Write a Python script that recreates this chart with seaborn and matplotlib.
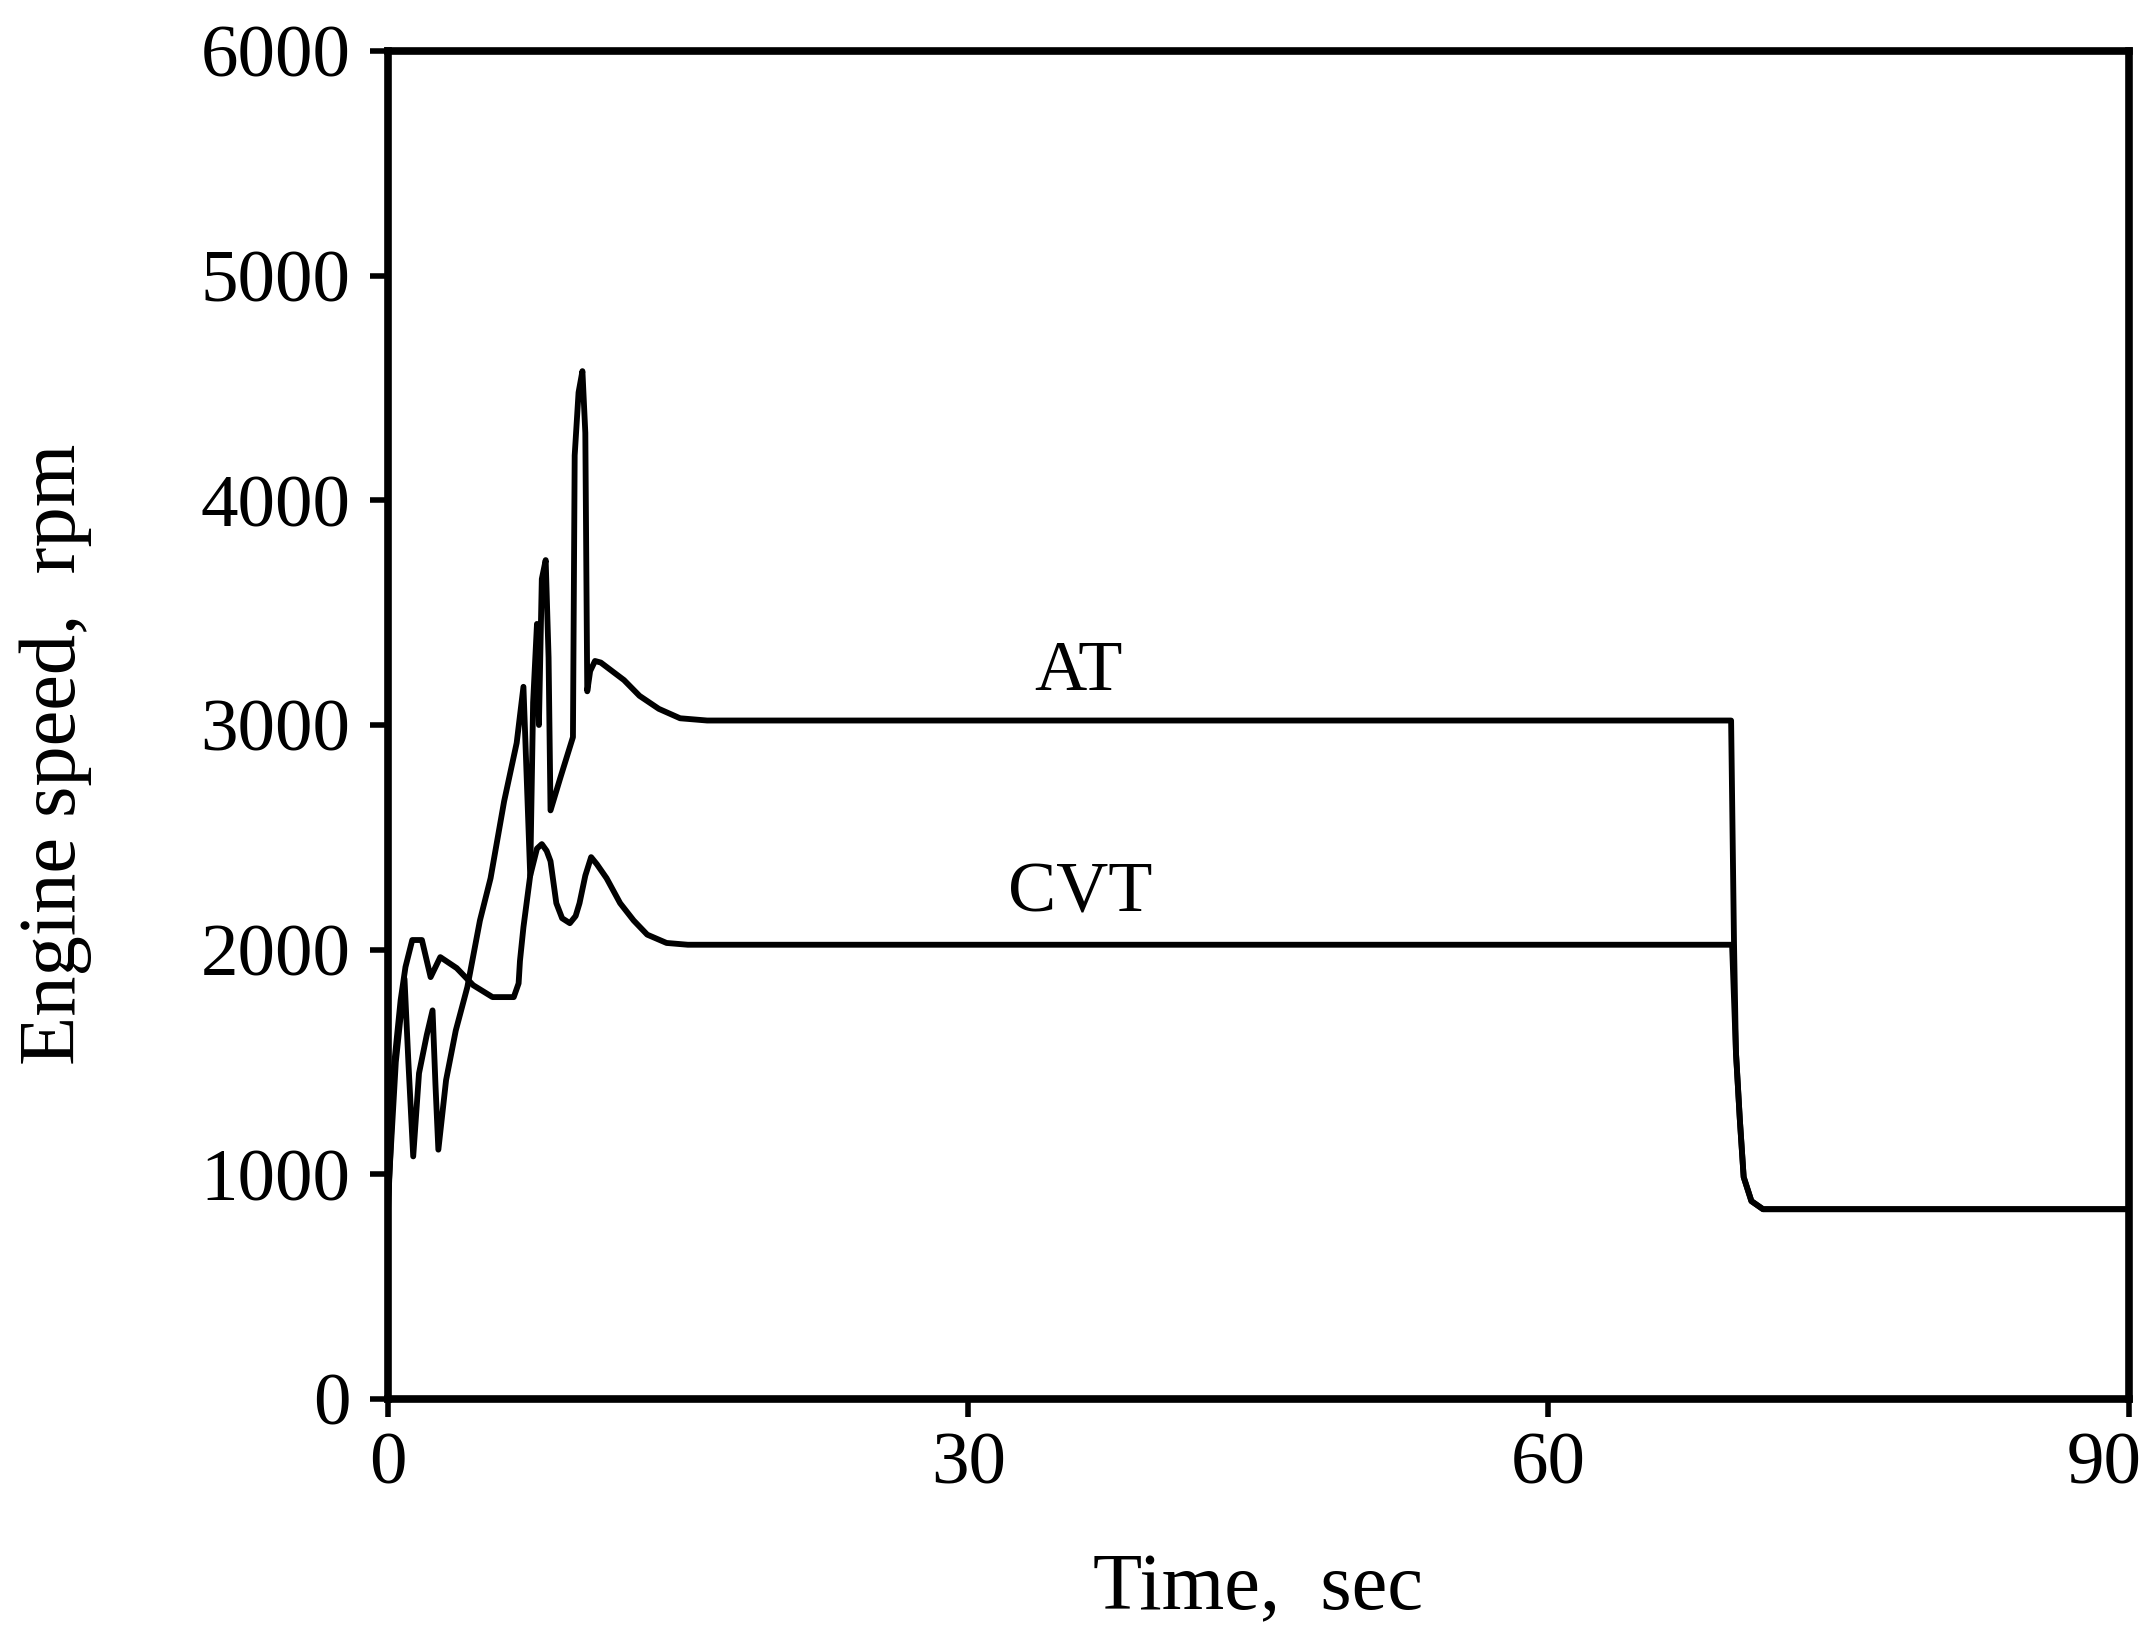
import numpy as np
import pandas as pd
import matplotlib
matplotlib.use("Agg")
import matplotlib.pyplot as plt
import matplotlib.transforms as mtransforms
import seaborn as sns

# ---- data ----
at_time = [0.0, 0.4, 0.85, 1.05, 1.3, 1.6, 2.0, 2.3, 2.45, 2.6, 3.0, 3.5, 4.1, 4.75,
           5.3, 6.0, 6.65, 7.0, 7.35, 7.5, 7.7, 7.8, 7.95, 8.15, 8.3, 8.4, 8.9, 9.56,
           9.65, 9.85, 10.05, 10.2, 10.3, 10.45, 10.7, 11.0, 12.2, 13.0, 14.0, 15.1,
           16.5, 69.45, 69.6, 69.7, 69.9, 70.1, 70.5, 71.1, 90.0]
at_rpm = [900, 1500, 1870, 1500, 1080, 1450, 1620, 1730, 1400, 1110, 1420, 1640, 1834, 2130,
          2318, 2660, 2920, 3170, 2330, 3100, 3450, 3000, 3650, 3734, 3300, 2620, 2763, 2946,
          4200, 4480, 4575, 4300, 3150, 3240, 3285, 3278, 3200, 3130, 3072, 3030,
          3020, 3020, 2030, 1544, 1246, 988, 881, 845, 845]

cvt_time = [0.0, 0.3, 0.65, 0.9, 1.25, 1.75, 2.2, 2.7, 3.55, 4.4, 5.4, 6.5, 6.75, 6.82,
            7.0, 7.35, 7.7, 7.95, 8.2, 8.4, 8.7, 9.0, 9.4, 9.7, 9.9, 10.2, 10.5, 10.8,
            11.3, 12.0, 12.7, 13.4, 14.4, 15.5, 69.5, 69.7, 69.9, 70.1, 70.5, 71.1, 90.0]
cvt_rpm = [850, 1478, 1776, 1923, 2043, 2043, 1878, 1967, 1918, 1842, 1789, 1789, 1850, 1950,
           2100, 2330, 2450, 2470, 2440, 2394, 2207, 2140, 2118, 2150, 2207, 2330, 2412, 2380,
           2318, 2207, 2130, 2067, 2030, 2022, 2022, 1544, 1246, 988, 881, 845, 845]

x_ticks = [0, 30, 60, 90]
y_ticks = [0, 1000, 2000, 3000, 4000, 5000, 6000]
x_label = "Time,  sec"
y_label = "Engine speed,  rpm"
curve_labels = ["AT", "CVT"]
label_pos_time = [35.7, 35.8]
label_pos_rpm = [3235, 2247]

# ---- plotting ----
sns.set_theme(style="ticks")
plt.rcParams["font.family"] = ["Liberation Serif", "DejaVu Serif"]

fig = plt.figure(figsize=(21.5, 16.39), dpi=100)
ax = fig.add_axes([0.1805, 0.1464, 0.8095, 0.8225])

df_at = pd.DataFrame({"t": at_time, "rpm": at_rpm})
df_cvt = pd.DataFrame({"t": cvt_time, "rpm": cvt_rpm})
sns.lineplot(data=df_at, x="t", y="rpm", ax=ax, color="black", lw=4.2,
             estimator=None, sort=False)
sns.lineplot(data=df_cvt, x="t", y="rpm", ax=ax, color="black", lw=4.2,
             estimator=None, sort=False)

ax.set_xlim(0, 90)
ax.set_ylim(0, 6000)
ax.set_xticks(x_ticks)
ax.set_yticks(y_ticks)
ax.set_xticklabels([str(v) for v in x_ticks])
ax.set_yticklabels([str(v) for v in y_ticks])

for s in ax.spines.values():
    s.set_visible(True)
    s.set_linewidth(5.5)
    s.set_color("black")

ax.tick_params(axis="both", direction="out", length=13, width=4, colors="black",
               labelsize=54)
ax.tick_params(axis="y", pad=14)
ax.tick_params(axis="x", pad=11)

# last x tick label sits slightly left of its tick, as in the reference
last = ax.get_xticklabels()[-1]
last.set_transform(last.get_transform() +
                   mtransforms.ScaledTranslation(-24 / 100, 0, fig.dpi_scale_trans))

ax.set_xlabel(x_label, fontsize=58, color="black")
ax.set_ylabel(y_label, fontsize=58, color="black")
ax.xaxis.label.set_va("center")
ax.xaxis.set_label_coords(0.5, -0.1417)
ax.yaxis.label.set_va("center")
ax.yaxis.set_label_coords(-0.1913, 0.478)

for lab, tx, ty in zip(curve_labels, label_pos_time, label_pos_rpm):
    ax.text(tx, ty, lab, fontsize=52, ha="center", va="center", color="black")

ax.grid(False)
ax.set_facecolor("white")
fig.patch.set_facecolor("white")

fig.savefig("out.png", dpi=100, facecolor="white")
